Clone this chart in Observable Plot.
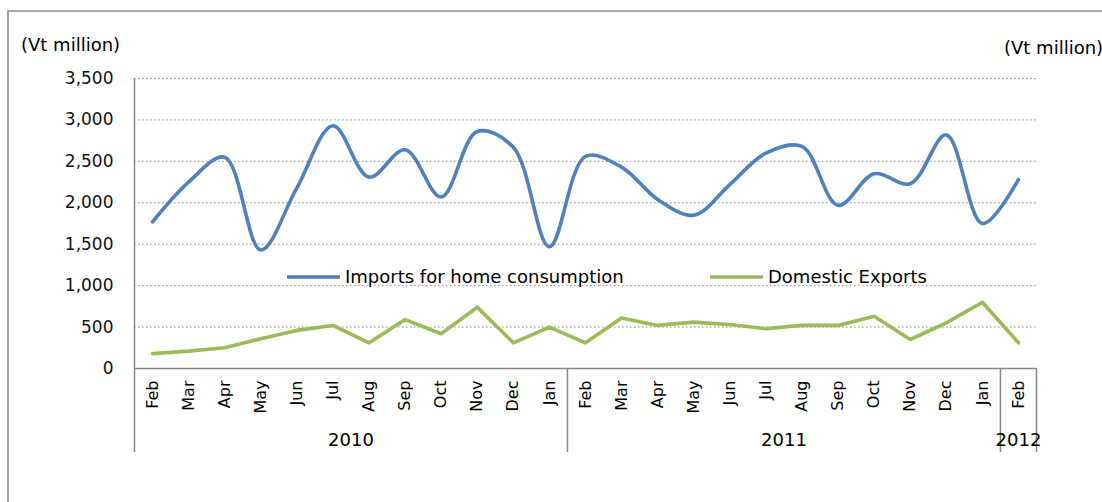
<!DOCTYPE html>
<html><head><meta charset="utf-8">
<script src="https://cdn.jsdelivr.net/npm/d3@7"></script>
<script src="https://cdn.jsdelivr.net/npm/@observablehq/plot@0.6"></script>
<style>
body{margin:0;background:#fff;}
#chart{position:relative;width:1102px;height:502px;overflow:hidden;background:#fff;}
</style>
</head><body><div id="chart"></div>
<script>
const months = ["Feb","Mar","Apr","May","Jun","Jul","Aug","Sep","Oct","Nov","Dec","Jan",
                "Feb","Mar","Apr","May","Jun","Jul","Aug","Sep","Oct","Nov","Dec","Jan","Feb"];
const imports = [1770,2250,2550,1430,2180,2930,2310,2640,2070,2860,2670,1470,
                 2560,2430,2040,1850,2220,2600,2680,1970,2350,2230,2820,1750,2280];
const domesticExports = [180,210,250,360,460,520,310,590,420,740,310,500,
                         310,610,520,560,530,480,520,520,630,350,550,800,310];
const yearLabels = ["2010","2011","2012"];
const yearFirst = [0,12,24];
const yearLast = [11,23,24];
const seriesNames = ["Imports for home consumption","Domestic Exports"];
const seriesColors = ["#4F81BD","#9BBB59"];
const yTicks = [0,500,1000,1500,2000,2500,3000,3500];
const unitLabel = "(Vt million)";

const rows = months.map((m,i)=>({i, month:m, imp:imports[i], exp:domesticExports[i]}));
const yearRows = yearLabels.map((l,k)=>({label:l, mid:(yearFirst[k]+yearLast[k])/2}));
const separators = yearLast.map(e=>e+0.5);

const axisGray = "#868686";
const FONT = "DejaVu Sans";

const chart = Plot.plot({
  width:1102, height:502,
  marginLeft:134, marginRight:66, marginTop:78, marginBottom:134,
  x:{type:"linear", domain:[-0.5,24.5], axis:null},
  y:{domain:[0,3500], axis:null},
  style:{fontFamily:FONT, background:"#fff", color:"#000"},
  marks:[
    Plot.gridY(yTicks.slice(1), {stroke:"#8c8c8c", strokeOpacity:1, strokeDasharray:"1.5,2.5", strokeWidth:1}),
    Plot.axisY(yTicks, {tickSize:0, tickPadding:21, tickFormat:d3.format(","), fontSize:17, fill:"#111"}),
    Plot.ruleY([0], {stroke:axisGray, strokeWidth:1.5}),
    Plot.ruleX([-0.5], {stroke:axisGray, strokeWidth:1.5, insetBottom:-84}),
    Plot.ruleX(separators, {stroke:axisGray, strokeWidth:1.5, insetTop:290, insetBottom:-84}),
    Plot.line(rows, {x:"i", y:"imp", stroke:seriesColors[0], strokeWidth:3.6, curve:"catmull-rom"}),
    Plot.line(rows, {x:"i", y:"exp", stroke:seriesColors[1], strokeWidth:3.6}),
    Plot.text(rows, {x:"i", text:"month", frameAnchor:"bottom", rotate:-90, textAnchor:"end", lineAnchor:"middle", dy:12, fontSize:16, fill:"#000"}),
    Plot.text(yearRows, {x:"mid", text:"label", frameAnchor:"bottom", lineAnchor:"middle", dy:72, fontSize:18, fill:"#000"})
  ]
});

const svg = d3.select(chart);
// outer chart-area border
svg.insert("rect", ":first-child").attr("x",8).attr("y",11).attr("width",1300).attr("height",700)
  .attr("fill","#fff").attr("stroke",axisGray).attr("stroke-width",1.5);

// unit labels
svg.append("text").attr("x",21).attr("y",45).attr("dy","0.35em").attr("text-anchor","start")
  .attr("font-family",FONT).attr("font-size",18).attr("fill","#000").text(unitLabel);
svg.append("text").attr("x",1004).attr("y",48).attr("dy","0.35em").attr("text-anchor","start")
  .attr("font-family",FONT).attr("font-size",18).attr("fill","#000").text(unitLabel);

// legend
const legendX = [287, 710];
seriesNames.forEach((name,k)=>{
  svg.append("line").attr("x1",legendX[k]).attr("x2",legendX[k]+53).attr("y1",277).attr("y2",277)
    .attr("stroke",seriesColors[k]).attr("stroke-width",3.6);
  svg.append("text").attr("x",legendX[k]+58).attr("y",277).attr("dy","0.35em").attr("text-anchor","start")
    .attr("font-family",FONT).attr("font-size",18).attr("fill","#000").text(name);
});

document.getElementById("chart").appendChild(chart);
</script>
</body></html>
